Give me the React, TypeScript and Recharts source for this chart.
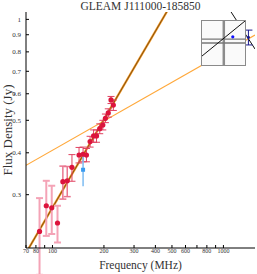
import { ComposedChart, ScatterChart, Line, Scatter, ErrorBar, XAxis, YAxis, ReferenceLine } from "recharts";

// GLEAM sub-band measurements
const gleamFreq = [84, 92, 99, 107, 115, 122, 130, 143, 151, 158, 166, 174, 181, 189, 197, 204, 212, 220, 227];
const gleamFlux = [0.233, 0.278, 0.274, 0.247, 0.328, 0.33, 0.362, 0.394, 0.396, 0.394, 0.432, 0.449, 0.449, 0.472, 0.484, 0.507, 0.526, 0.575, 0.555];
const gleamErr = [0.06, 0.052, 0.045, 0.031, 0.037, 0.034, 0.033, 0.021, 0.02, 0.018, 0.016, 0.019, 0.019, 0.016, 0.016, 0.015, 0.015, 0.014, 0.02];

// other catalogues
const tgssFreq = [151];
const tgssFlux = [0.356];
const tgssErr = [0.038];
const nvssFreq = [1400];
const nvssFlux = [0.884];
const nvssErr = [0.045];

// fit lines (end points)
const steepFreq = [70, 500];
const steepFlux = [0.201, 1.12];
const flatFreq = [70, 1530];
const flatFlux = [0.367, 0.898];
const connFreq = [1109, 1530];
const connFlux = [1.052, 0.816];

const xTicks = [70, 80, 90, 100, 200, 300, 400, 500, 600, 700, 800, 900, 1000];
const xHidden = [90, 700, 900];
const yTicks = [0.3, 0.4, 0.5, 0.6, 0.7, 0.8, 0.9, 1];

// inset cut-out (own unit coordinates)
const insetTicks = [0.1, 0.2, 0.3, 0.4, 0.5, 0.6, 0.7, 0.8, 0.9];
const insetDiagX = [0, 1];
const insetDiagY = [0.204, 1];
const insetVert = [0.507];
const insetHoriz = [0.5, 0.59];
const insetDot = [{ x: 0.716, y: 0.64 }];

const pts = (f: number[], s: number[], e?: number[]) =>
  f.map((v, i) => ({ freq: v, flux: s[i], err: e ? e[i] : 0 }));

const gleam = pts(gleamFreq, gleamFlux, gleamErr);
const palePts = gleam.slice(0, 4);
const midPts = gleam.slice(4, 6);
const redPts = gleam.slice(6);

const FONT = "'Liberation Serif', serif";

const circle = (color: string, r: number) => (p: any) => <circle cx={p.cx} cy={p.cy} r={r} fill={color} />;
const square = (color: string, s: number) => (p: any) => (
  <rect x={p.cx - s / 2} y={p.cy - s / 2} width={s} height={s} fill={color} />
);

const tickStyle = { fontSize: 6, fill: "#333", fontFamily: FONT };

export default function App() {
  return (
    <div style={{ position: "absolute", left: 0, top: 0, width: 257, height: 274, background: "#fff" }}>
      <ComposedChart width={257} height={274} margin={{ top: 12, right: 2, bottom: 0, left: 0 }}>
        <XAxis
          dataKey="freq"
          type="number"
          scale="log"
          domain={[70, 1530]}
          allowDataOverflow
          ticks={xTicks}
          tickFormatter={(v: number) => (xHidden.includes(v) ? "" : String(v))}
          height={26}
          tickSize={-3}
          tickMargin={4}
          tick={tickStyle}
          stroke="#000"
          interval={0}
        />
        <XAxis
          xAxisId="top"
          orientation="top"
          type="number"
          scale="log"
          domain={[70, 1530]}
          allowDataOverflow
          ticks={xTicks}
          height={0}
          tickSize={-3}
          tick={false}
          stroke="#000"
          interval={0}
        />
        <YAxis
          dataKey="flux"
          type="number"
          scale="log"
          domain={[0.208, 1.052]}
          allowDataOverflow
          ticks={yTicks}
          tickFormatter={(v: number) => (v === 1 ? "1" : v.toFixed(1))}
          width={26}
          tickSize={-3}
          tickMargin={8}
          tick={{ ...tickStyle, fontSize: 7 }}
          stroke="#000"
          interval={0}
        />
        <YAxis
          yAxisId="right"
          orientation="right"
          type="number"
          scale="log"
          domain={[0.208, 1.052]}
          allowDataOverflow
          ticks={yTicks}
          width={0}
          tickSize={-3}
          tick={false}
          stroke="#000"
          interval={0}
        />
        <Line data={pts(flatFreq, flatFlux)} dataKey="flux" stroke="#ffa83a" strokeWidth={1.2} dot={false} isAnimationActive={false} />
        <Line data={pts(steepFreq, steepFlux)} dataKey="flux" stroke="#f0921c" strokeWidth={2.2} dot={false} isAnimationActive={false} />
        <Line data={pts(steepFreq, steepFlux)} dataKey="flux" stroke="#3a2a10" strokeWidth={0.6} dot={false} isAnimationActive={false} />
        <Line data={pts(connFreq, connFlux)} dataKey="flux" stroke="#111" strokeWidth={1} dot={false} isAnimationActive={false} />
        <Scatter data={palePts} dataKey="flux" shape={circle("#dc143c", 2.6)} isAnimationActive={false}>
          <ErrorBar dataKey="err" direction="y" width={3.5} stroke="#f4a3b6" strokeWidth={2} />
        </Scatter>
        <Scatter data={midPts} dataKey="flux" shape={circle("#dc143c", 2.6)} isAnimationActive={false}>
          <ErrorBar dataKey="err" direction="y" width={3.5} stroke="#ea7690" strokeWidth={1.5} />
        </Scatter>
        <Scatter data={redPts} dataKey="flux" shape={circle("#dc143c", 2.6)} isAnimationActive={false}>
          <ErrorBar dataKey="err" direction="y" width={3.5} stroke="#e0405f" strokeWidth={1} />
        </Scatter>
        <Scatter data={pts(tgssFreq, tgssFlux, tgssErr)} dataKey="flux" shape={square("#3a9bf0", 4)} isAnimationActive={false}>
          <ErrorBar dataKey="err" direction="y" width={0} stroke="#7dbcf2" strokeWidth={1.5} />
        </Scatter>
        <Scatter data={pts(nvssFreq, nvssFlux, nvssErr)} dataKey="flux" shape={circle("#1a1a8c", 1.5)} isAnimationActive={false}>
          <ErrorBar dataKey="err" direction="y" width={4} stroke="#1a1a8c" strokeWidth={1} />
        </Scatter>
      </ComposedChart>

      <div style={{ position: "absolute", left: 201, top: 20, width: 45, height: 46, background: "#fafafa", border: "1px solid #8a8a8a", boxSizing: "border-box" }}>
        <ScatterChart width={43} height={44} margin={{ top: 0, right: 0, bottom: 0, left: 0 }}>
          <XAxis dataKey="x" type="number" domain={[0, 1]} ticks={insetTicks} height={0} tickSize={-1.5} tick={false} axisLine={false} stroke="#888" />
          <XAxis xAxisId="t" orientation="top" type="number" domain={[0, 1]} ticks={insetTicks} height={0} tickSize={-1.5} tick={false} axisLine={false} stroke="#888" />
          <YAxis dataKey="y" type="number" domain={[0, 1]} ticks={insetTicks} width={0} tickSize={-1.5} tick={false} axisLine={false} stroke="#888" />
          <YAxis yAxisId="r" orientation="right" type="number" domain={[0, 1]} ticks={insetTicks} width={0} tickSize={-1.5} tick={false} axisLine={false} stroke="#888" />
          {insetVert.map((v) => (
            <ReferenceLine key={"v" + v} x={v} stroke="#8c8c8c" strokeWidth={2.5} />
          ))}
          {insetHoriz.map((v) => (
            <ReferenceLine key={"h" + v} y={v} stroke="#777" strokeWidth={1.3} />
          ))}
          <Line data={insetDiagX.map((x, i) => ({ x, y: insetDiagY[i] }))} dataKey="y" stroke="#111" strokeWidth={1} dot={false} isAnimationActive={false} />
          <Scatter data={insetDot} shape={circle("#1010ff", 1.6)} isAnimationActive={false} />
        </ScatterChart>
      </div>

      <div style={{ position: "absolute", left: 0, top: 0, width: 257, textAlign: "center", paddingLeft: 24, boxSizing: "border-box", fontFamily: FONT, fontSize: 11.5, lineHeight: "13px", color: "#333" }}>
        GLEAM J111000-185850
      </div>
      <div style={{ position: "absolute", left: 0, top: 258, width: 257, textAlign: "center", paddingLeft: 24, boxSizing: "border-box", fontFamily: FONT, fontSize: 11.5, lineHeight: "14px", color: "#333" }}>
        Frequency (MHz)
      </div>
      <div style={{ position: "absolute", left: 7, top: 130, width: 0, height: 0 }}>
        <div style={{ position: "absolute", transform: "translate(-50%, -50%) rotate(-90deg)", whiteSpace: "nowrap", fontFamily: FONT, fontSize: 13, lineHeight: "13px", color: "#333" }}>
          Flux Density (Jy)
        </div>
      </div>
    </div>
  );
}
